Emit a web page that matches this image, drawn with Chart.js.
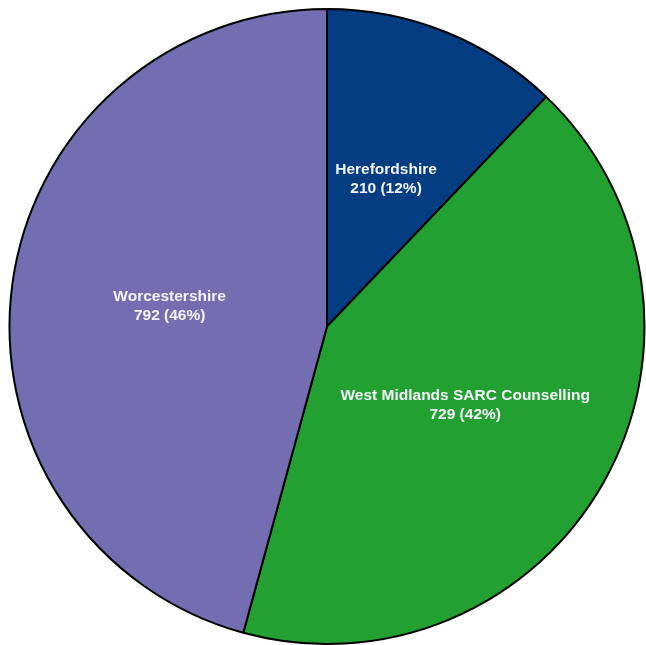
<!DOCTYPE html>
<html>
<head>
<meta charset="utf-8">
<script src="https://cdn.jsdelivr.net/npm/chart.js@4.4.1/dist/chart.umd.min.js"></script>
<style>
  html, body { margin: 0; padding: 0; background: #fff; }
  #wrap { width: 646px; height: 645px; }
</style>
</head>
<body>
<div id="wrap"><canvas id="pieChart"></canvas></div>
<script>
// ── Data ──
const areas  = ["Herefordshire", "West Midlands SARC Counselling", "Worcestershire"];
const counts = [210, 729, 792];
const shares = ["12%", "42%", "46%"];
const sliceColors = ["#053d82", "#22a132", "#736eb2"];

// ── Labels drawn inside each slice ──
const sliceLabels = {
  id: "sliceLabels",
  afterDatasetsDraw(chart) {
    const { ctx } = chart;
    const meta = chart.getDatasetMeta(0);
    ctx.save();
    ctx.fillStyle = "#f2f4f8";
    ctx.font = "bold 15.5px 'Liberation Sans', Arial, sans-serif";
    ctx.textAlign = "center";
    ctx.textBaseline = "middle";
    meta.data.forEach((arc, i) => {
      const p = arc.getCenterPoint();
      ctx.fillText(areas[i], p.x, p.y - 9);
      ctx.fillText(`${counts[i]} (${shares[i]})`, p.x, p.y + 10);
    });
    ctx.restore();
  }
};

new Chart(document.getElementById("pieChart"), {
  type: "pie",
  data: {
    labels: areas,
    datasets: [{
      data: counts,
      backgroundColor: sliceColors,
      borderColor: "#000",
      borderWidth: 2,
    }]
  },
  options: {
    responsive: true,
    maintainAspectRatio: false,
    animation: false,
    layout: { padding: { left: 8, top: 8, right: 0, bottom: 0 } },
    plugins: { legend: { display: false }, tooltip: { enabled: false } },
  },
  plugins: [sliceLabels]
});
</script>
</body>
</html>
